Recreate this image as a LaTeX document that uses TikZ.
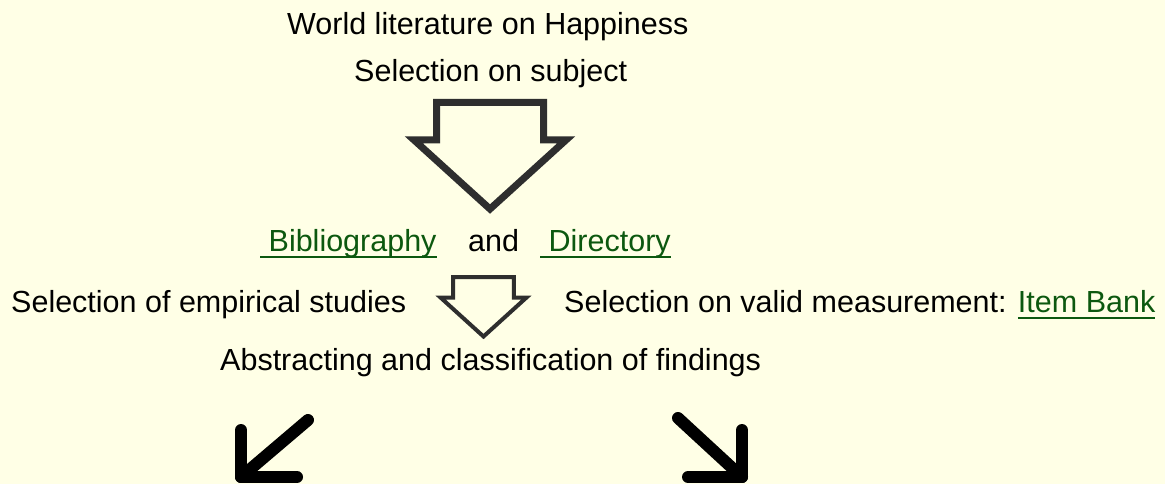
\documentclass[tikz,border=0pt]{standalone}
\usepackage{fontspec}
\setmainfont{Liberation Sans}
\definecolor{bgyellow}{HTML}{FFFFE6}
\definecolor{linkgreen}{HTML}{0C580F}
\definecolor{arrowgray}{HTML}{2E2E2E}
\newcommand\linktext[1]{\textcolor{linkgreen}{\setbox0\hbox{#1}\rlap{\rule[-7pt]{\wd0}{1.7pt}}\box0}}
\begin{document}
\begin{tikzpicture}[x=1pt,y=-1pt,
  txt/.style={anchor=base west, inner sep=0pt, text=black, font=\fontsize{30.5}{36}\selectfont},
  hollowarrow/.style={draw=arrowgray, fill=bgyellow, line join=miter},
  bigstroke/.style={hollowarrow, line width=7pt},
  smallstroke/.style={hollowarrow, line width=4pt},
  diagarrow/.style={draw=black, line width=12pt, line cap=round, line join=round}]
\fill[bgyellow] (0,0) rectangle (1165,484);
\useasboundingbox (0,0) rectangle (1165,484);

% texts
\node[txt] (world) at (287,35) {World literature on Happiness};
\node[txt] (subject) at (354,82) {Selection on subject};
\node[txt] (bib) at (260,251) {\linktext{\ Bibliography}};
\node[txt] (and) at (468,251) {and};
\node[txt] (dir) at (540,251) {\linktext{\ Directory}};
\node[txt] (empirical) at (11,312) {Selection of empirical studies};
\node[txt] (valid) at (564,312) {Selection on valid measurement: \linktext{Item Bank}};
\node[txt] (abstract) at (220,370) {Abstracting and classification of findings};

% big hollow arrow
\draw[bigstroke] (436.5,102.5) -- (543.5,102.5) -- (543.5,140) -- (566,140)
  -- (490,209) -- (414,140) -- (436.5,140) -- cycle;

% small hollow arrow (scaled copy of the big one)
\draw[smallstroke] (453.2,277) -- (513.8,277) -- (513.8,297.5) -- (526.5,297.5)
  -- (483.5,336.5) -- (440.5,297.5) -- (453.2,297.5) -- cycle;

% diagonal arrows
\coordinate (lstart) at (308,420);
\coordinate (lcorner) at (241,477);
\coordinate (lup) at (241,430);
\coordinate (lright) at (297,477);
\draw[diagarrow] (lstart) -- (lcorner);
\draw[diagarrow] (lup) -- (lcorner) -- (lright);

\coordinate (rstart) at (678,418);
\coordinate (rcorner) at (742,477);
\coordinate (rup) at (742,430);
\coordinate (rleft) at (688,477);
\draw[diagarrow] (rstart) -- (rcorner);
\draw[diagarrow] (rup) -- (rcorner) -- (rleft);
\end{tikzpicture}
\end{document}
